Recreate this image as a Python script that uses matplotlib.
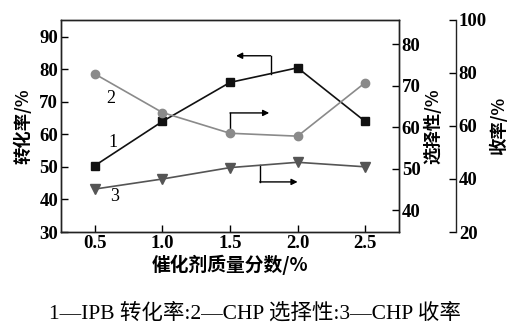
import matplotlib.pyplot as plt

plt.rcParams['font.family'] = ['Liberation Serif', 'Noto Sans CJK SC']

# catalyst mass fraction, %
x = [0.5, 1.0, 1.5, 2.0, 2.5]
# 1 - IPB conversion, %
conversion = [50.4, 64.0, 76.0, 80.5, 64.0]
# 2 - CHP selectivity, %
selectivity = [72.8, 63.5, 58.5, 57.8, 70.7]
# 3 - CHP yield, %
yield_ = [36.2, 40.0, 44.3, 46.3, 44.6]

fig = plt.figure(figsize=(5.09, 3.22), dpi=100)
ax = fig.add_axes([0.1198, 0.2795, 0.6641, 0.6584])
ax2 = ax.twinx()
ax3 = ax.twinx()
ax3.spines['right'].set_position(('axes', 1.1686))

for a in (ax, ax2, ax3):
    for s in a.spines.values():
        s.set_linewidth(1.0)
        s.set_color('#222222')

ax.plot(x, conversion, color='#111111', lw=1.2, marker='s', ms=6, zorder=3)
ax2.plot(x, selectivity, color='#8a8a8a', lw=1.2, marker='o', ms=6, zorder=3)
ax3.plot(x, yield_, color='#555555', lw=1.2, marker='v', ms=7, zorder=3)

ax.set_xlim(0.25, 2.75)
ax.set_ylim(30, 95.2)
ax2.set_ylim(34.7, 85.8)
ax3.set_ylim(20, 100)

ax.set_xticks(x)
ax.set_xticklabels(['0.5', '1.0', '1.5', '2.0', '2.5'])
ax.set_yticks([30, 40, 50, 60, 70, 80, 90])
ax2.set_yticks([40, 50, 60, 70, 80])
ax3.set_yticks([20, 40, 60, 80, 100])

ts = 13.5
ax.tick_params(axis='both', direction='in', length=5, width=1.0, labelsize=ts, pad=2)
ax.tick_params(axis='y', right=False)
ax.tick_params(axis='x', top=False)
ax2.tick_params(axis='y', direction='in', length=5, width=1.0, labelsize=ts, pad=2)
ax3.tick_params(axis='y', direction='in', length=5, width=1.0, labelsize=ts, pad=2)
for a in (ax, ax2, ax3):
    for lab in a.get_xticklabels() + a.get_yticklabels():
        lab.set_fontweight('bold')

ax3.spines['top'].set_visible(False)
ax3.spines['left'].set_visible(False)
ax3.spines['bottom'].set_visible(False)

lab_font = dict(fontsize=12.5, fontweight='bold', family=['Noto Sans CJK SC', 'DejaVu Sans'])
ax.set_ylabel('转化率/%', labelpad=5, **lab_font)
ax2.set_ylabel('选择性/%', labelpad=3, **lab_font)
ax3.set_ylabel('收率/%', labelpad=2, **lab_font)
ax.set_xlabel('催化剂质量分数/%', labelpad=2, fontsize=13.5, fontweight='bold',
              family=['Noto Sans CJK SC', 'DejaVu Sans'])

# curve numbers
ax.text(0.634, 57.4, '1', fontsize=13, ha='center', va='center')
ax.text(0.62, 71.2, '2', fontsize=13, ha='center', va='center')
ax.text(0.65, 40.8, '3', fontsize=13, ha='center', va='center')

# arrows pointing to the axis of each curve
arrow = dict(arrowstyle='-|>', color='black', lw=1.0, mutation_scale=9,
             shrinkA=0, shrinkB=0)
ax.plot([1.80, 1.80], [78.7, 84.2], color='black', lw=1.0)
ax.annotate('', xy=(1.545, 84.2), xytext=(1.80, 84.2), arrowprops=arrow)
ax2.plot([1.5, 1.5], [58.5, 63.4], color='black', lw=1.0, zorder=2)
ax2.annotate('', xy=(1.79, 63.4), xytext=(1.5, 63.4), arrowprops=arrow)
ax3.plot([1.72, 1.72], [45.2, 38.9], color='black', lw=1.0)
ax3.annotate('', xy=(2.0, 38.9), xytext=(1.72, 38.9), arrowprops=arrow)

fig.text(0.5, 0.028, '1—IPB 转化率:2—CHP 选择性:3—CHP 收率', ha='center', va='center',
         fontsize=15.5, family=['Liberation Serif', 'Noto Sans CJK SC'])

fig.savefig('out.png', dpi=100)
